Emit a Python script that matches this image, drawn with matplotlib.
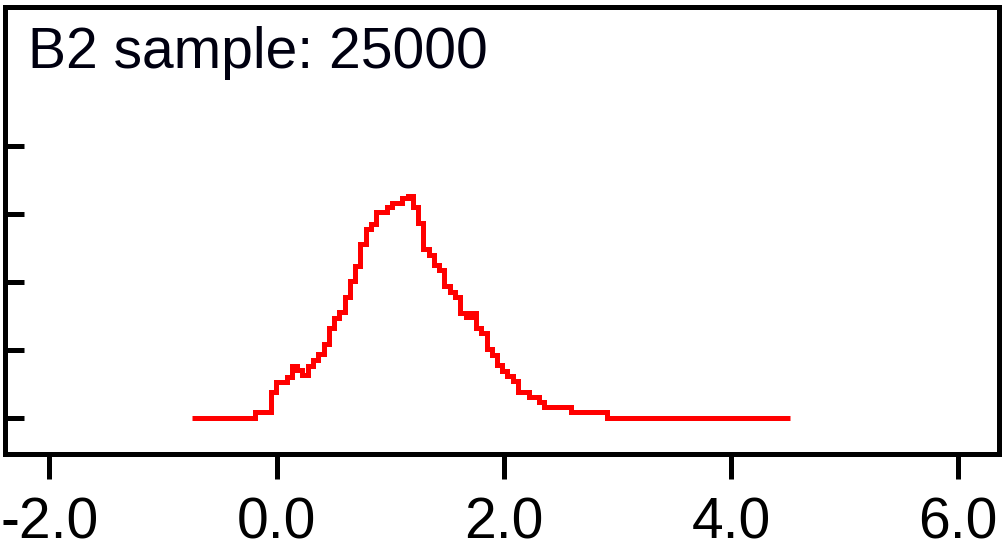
import numpy as np
import matplotlib.pyplot as plt

#Histogram of B2 sample (bin edges and heights)
edges = [-0.742, -0.188, -0.047, -0.003, 0.094, 0.138, 0.182, 0.226, 0.279,
         0.323, 0.367, 0.420, 0.464, 0.508, 0.552, 0.605, 0.649, 0.693, 0.737,
         0.790, 0.834, 0.878, 0.975, 1.019, 1.107, 1.160, 1.204, 1.248, 1.292,
         1.345, 1.389, 1.433, 1.477, 1.530, 1.574, 1.618, 1.670, 1.714, 1.759,
         1.803, 1.855, 1.899, 1.943, 1.988, 2.032, 2.084, 2.128, 2.225, 2.313,
         2.357, 2.595, 2.912, 4.524]
heights = [0.0, 0.081, 0.382, 0.529, 0.603, 0.765, 0.706, 0.632, 0.765, 0.853,
           0.941, 1.088, 1.324, 1.463, 1.551, 1.772, 2.007, 2.235, 2.559, 2.779,
           2.853, 3.022, 3.103, 3.162, 3.235, 3.265, 3.096, 2.868, 2.485, 2.397,
           2.250, 2.176, 1.941, 1.853, 1.779, 1.544, 1.478, 1.544, 1.324, 1.243,
           1.015, 0.926, 0.779, 0.691, 0.618, 0.537, 0.382, 0.301, 0.228, 0.154,
           0.081, 0.0]

title = 'B2 sample: 25000'
xticks = [-2.0, 0.0, 2.0, 4.0, 6.0]
yticks = [0, 1, 2, 3, 4]

plt.rcParams['font.family'] = ['Liberation Sans', 'DejaVu Sans']

fig = plt.figure(figsize=(10.03, 5.59), dpi=100)
ax = fig.add_axes([0.005, 0.187, 0.991, 0.8005])

#step line of the histogram
ax.stairs(heights, edges, baseline=None, color='#ff0000', linewidth=3.6)

ax.set_xlim(-2.39, 6.36)
ax.set_ylim(-0.54, 6.04)
ax.set_xticks(xticks)
ax.set_xticklabels(['%.1f' % t for t in xticks])
ax.set_yticks(yticks)
ax.set_yticklabels([])

ax.tick_params(axis='x', direction='out', length=18, width=3.6, pad=12, labelsize=41)
ax.tick_params(axis='y', direction='in', length=14, width=3.6)
for s in ax.spines.values():
    s.set_linewidth(3.6)

ax.text(0.023, 0.864, title, transform=ax.transAxes, fontsize=41,
        ha='left', va='baseline', color='#000010')

fig.savefig('out.png', dpi=100)
